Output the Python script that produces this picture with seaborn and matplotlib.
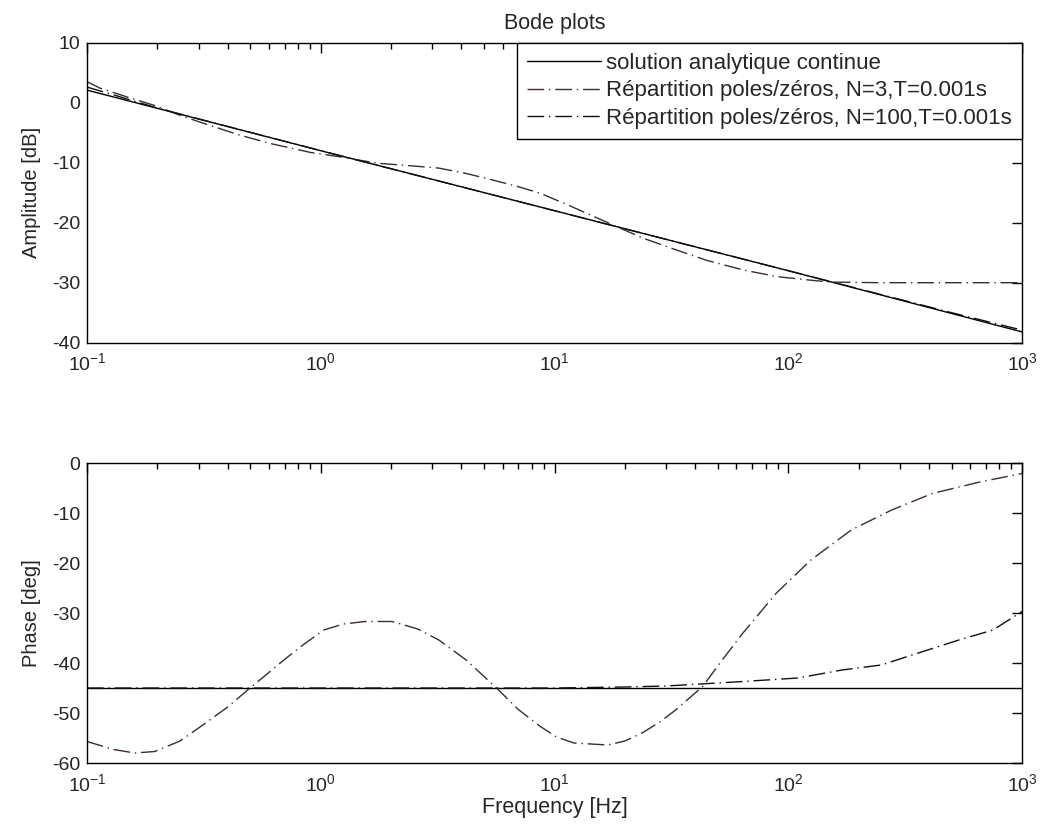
import numpy as np
import pandas as pd
import matplotlib
matplotlib.use("Agg")
import matplotlib.pyplot as plt
import seaborn as sns
from matplotlib.ticker import LogLocator, NullFormatter

# ---------------- data ----------------
labels = ["solution analytique continue",
          "Répartition poles/zéros, N=3,T=0.001s",
          "Répartition poles/zéros, N=100,T=0.001s"]

# analytic solution (straight line in log-log, constant phase)
f_an = [0.1, 1, 10, 100, 1000]
amp_an = [2.1, -8.0, -18.0, -28.0, -38.2]
f_an_ph = [0.1, 1000]
ph_an = [-45.0, -45.0]

# N=3 amplitude
f_n3_amp = [0.1, 0.114, 0.15, 0.196, 0.25, 0.313, 0.45, 0.608, 0.906, 1.2, 1.45,
            1.76, 2.4, 3.2, 4.2, 5.46, 7.0, 8.7, 11.5, 14.8, 16.9, 24, 33, 45,
            64.5, 90, 126, 152, 250, 500, 1000]
amp_n3 = [3.5, 2.4, 0.9, -0.5, -2.1, -3.4, -5.4, -6.8, -8.3, -9.0, -9.55,
          -10.1, -10.5, -10.9, -11.8, -12.9, -14.0, -15.1, -17.1, -19.0, -20.0, -22.6, -24.5, -26.3,
          -27.9, -29.0, -29.6, -29.9, -30.0, -30.0, -30.0]

# N=100 amplitude
f_n100_amp = [0.1, 0.13, 0.2, 1, 10, 100, 500, 1000]
amp_n100 = [2.6, 1.3, -0.9, -8.0, -18.0, -28.0, -35.0, -37.9]

# N=3 phase
f_n3_ph = [0.1, 0.13, 0.16, 0.195, 0.25, 0.313, 0.4, 0.498, 0.6, 0.695, 0.85, 1.03, 1.25,
           1.55, 2.02, 2.6, 3.2, 4.19, 5.65, 7.0, 8.7, 10.2, 12.1, 16.9, 20, 23.7, 28, 33, 43,
           52, 64, 89, 125, 186, 277, 413, 660, 1000]
ph_n3 = [-55.7, -57.3, -58.0, -57.7, -55.6, -52.4, -48.8, -45.0, -41.9, -39.4, -36.2, -33.4, -32.2,
         -31.7, -31.7, -33.2, -35.4, -39.4, -45.0, -49.3, -52.7, -54.8, -56.0, -56.4, -55.6, -54.0, -51.9, -49.4, -44.7,
         -39.5, -34.0, -26.0, -19.4, -13.4, -9.4, -6.1, -3.8, -2.1]

# N=100 phase
f_n100_ph = [0.1, 1, 10, 20, 30, 64, 110, 170, 250, 360, 537, 752, 1000]
ph_n100 = [-45.0, -45.0, -45.0, -44.8, -44.6, -43.7, -43.0, -41.4, -40.4, -38.0, -35.4, -33.4, -29.7]

# ---------------- styling ----------------
sns.set_style("white")
plt.rcParams["font.family"] = ["Liberation Sans", "DejaVu Sans"]
plt.rcParams["mathtext.fontset"] = "custom"
plt.rcParams["mathtext.rm"] = "Liberation Sans"
plt.rcParams["mathtext.it"] = "Liberation Sans"
plt.rcParams["axes.unicode_minus"] = False

fig = plt.figure(figsize=(10.48, 8.32), dpi=100)
W, H = 1048, 832
ax1 = fig.add_axes([87 / W, 1 - 342.7 / H, (1022 - 87) / W, (342.7 - 42.7) / H])
ax2 = fig.add_axes([87 / W, 1 - 763 / H, (1022 - 87) / W, (763 - 463) / H])

dashdot = (12, 3.5, 1, 3.5)
lw = 1.0
col_an = "#000000"
col_n3 = "#3a2e2a"
col_n100 = "#111111"

def draw(ax, x, y, color, ls, label):
    df = pd.DataFrame({"f": x, "v": y})
    kw = dict(data=df, x="f", y="v", ax=ax, color=color, linewidth=lw, label=label,
              estimator=None, sort=False)
    if ls == "solid":
        sns.lineplot(**kw, linestyle="-")
    else:
        sns.lineplot(**kw, dashes=False)
        ax.lines[-1].set_dashes(dashdot)

draw(ax1, f_an, amp_an, col_an, "solid", labels[0])
draw(ax1, f_n3_amp, amp_n3, col_n3, "dd", labels[1])
draw(ax1, f_n100_amp, amp_n100, col_n100, "dd", labels[2])

draw(ax2, f_an_ph, ph_an, col_an, "solid", labels[0])
draw(ax2, f_n3_ph, ph_n3, col_n3, "dd", labels[1])
draw(ax2, f_n100_ph, ph_n100, col_n100, "dd", labels[2])

for ax in (ax1, ax2):
    ax.set_xscale("log")
    ax.set_xlim(0.1, 1000)
    ax.xaxis.set_major_locator(LogLocator(base=10, numticks=10))
    ax.xaxis.set_minor_locator(LogLocator(base=10, subs=np.arange(2, 10), numticks=50))
    ax.xaxis.set_minor_formatter(NullFormatter())
    ax.tick_params(which="both", direction="in", top=True, right=True,
                   labelsize=14, color="black")
    ax.tick_params(which="major", length=7, width=1)
    ax.tick_params(which="minor", length=4, width=1)
    ax.tick_params(axis="x", which="major", pad=7)
    ax.tick_params(axis="y", which="major", pad=5)
    for s in ax.spines.values():
        s.set_color("black")
        s.set_linewidth(1.0)
    ax.set_xlabel("")

ax1.set_ylim(-40, 10)
ax1.set_yticks([10, 0, -10, -20, -30, -40])
ax2.set_ylim(-60, 0)
ax2.set_yticks([0, -10, -20, -30, -40, -50, -60])

ax1.set_ylabel("Amplitude [dB]", fontsize=14.5, labelpad=8)
ax2.set_ylabel("Phase [deg]", fontsize=14.5, labelpad=8)
ax2.set_xlabel("Frequency [Hz]", fontsize=15.5, labelpad=2)
ax1.set_title("Bode plots", fontsize=15.5, pad=10)

if ax2.get_legend():
    ax2.get_legend().remove()
leg = ax1.legend(loc="upper right", borderaxespad=0, fontsize=16,
                 handlelength=3.3, handletextpad=0.25, labelspacing=0.3,
                 borderpad=0.45, fancybox=False, frameon=True, framealpha=1)
leg.get_frame().set_edgecolor("black")
leg.get_frame().set_linewidth(1.0)
for h in leg.get_lines()[1:]:
    h.set_dashes(dashdot)

fig.savefig("out.png", dpi=100)
